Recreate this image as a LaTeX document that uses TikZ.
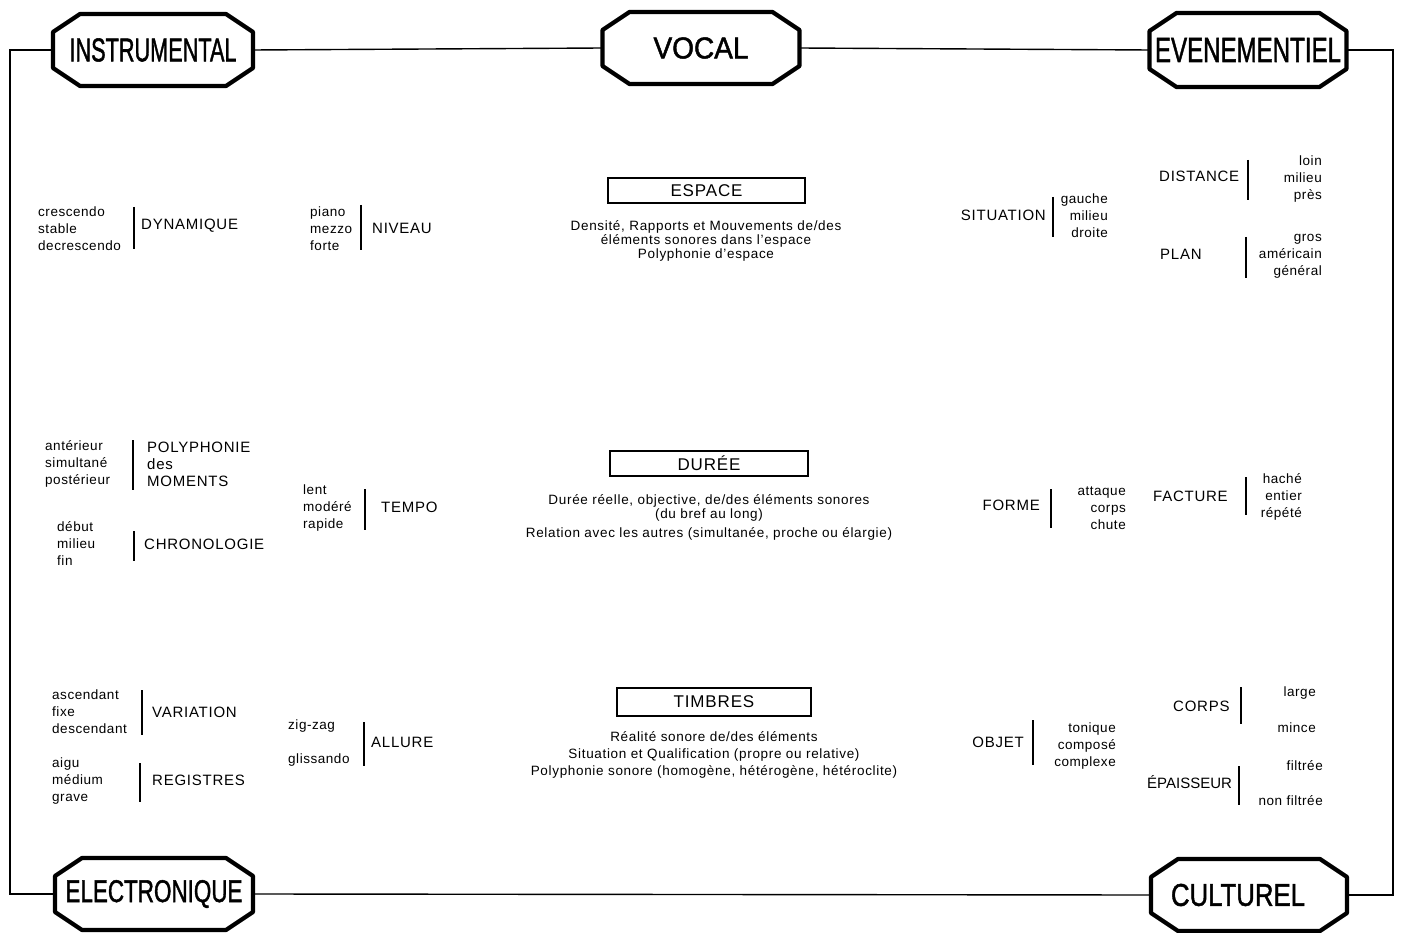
\documentclass[tikz,border=0pt]{standalone}
\usepackage{fontspec}
\setmainfont{Liberation Sans}
\newfontfamily\spaced[LetterSpace=5]{Liberation Sans}
\newfontfamily\lspaced[LetterSpace=4]{Liberation Sans}
\newfontfamily\octfont[FakeBold=1.6]{Liberation Sans}
\usetikzlibrary{calc}

% chamfered frame around a category label
\newcommand{\octlabel}[6]{%
  \node[octnode, minimum width=#4, minimum height=#5] (#1) at (#2,#3) {#6};
  \draw[octline]
    ($(#1.north west)+(27,0)$) -- ($(#1.north east)+(-27,0)$) --
    ($(#1.north east)+(0,18)$) -- ($(#1.south east)+(0,-18)$) --
    ($(#1.south east)+(-27,0)$) -- ($(#1.south west)+(27,0)$) --
    ($(#1.south west)+(0,-18)$) -- ($(#1.north west)+(0,18)$) -- cycle;
}

\tikzset{
  octnode/.style={inner sep=0pt, outer sep=0pt, font=\octfont},
  octline/.style={line width=4.2pt, line join=round},
  frame/.style={line width=1.4pt},
  bar/.style={line width=1.2pt},
  lst/.style={font=\lspaced\fontsize{13.5}{17}\selectfont, inner sep=0pt},
  capl/.style={font=\spaced\fontsize{15}{17}\selectfont, inner sep=0pt},
  desc/.style={font=\spaced\fontsize{13.5}{14}\selectfont, inner sep=0pt, align=center},
  titlebox/.style={draw, line width=1.8pt, inner sep=0pt,
    font=\spaced\fontsize{17}{18}\selectfont},
}

\begin{document}
\begin{tikzpicture}[x=1pt, y=-1pt]
\useasboundingbox (0,0) rectangle (1401,933);

% category labels at the corners and top centre
\octlabel{instr}{153}{50}{200}{72}{\resizebox{167pt}{23pt}{INSTRUMENTAL}}
\octlabel{vocal}{701}{48}{197}{72}{\resizebox{95pt}{21pt}{VOCAL}}
\octlabel{even}{1248}{50}{197}{74}{\resizebox{186pt}{24pt}{EVENEMENTIEL}}
\octlabel{elec}{154}{894}{198}{72}{\resizebox{177pt}{22pt}{ELECTRONIQUE}}
\octlabel{cult}{1249}{895}{196}{72}{\resizebox{134pt}{22pt}{CULTUREL}\rule{22pt}{0pt}}

% surrounding frame
\coordinate (tl) at (10,50);
\coordinate (bl) at (10,894);
\coordinate (tr) at (1393,50);
\coordinate (br) at (1393,895);
\draw[frame] (instr.west) -- (tl) -- (bl) -- (elec.west);
\draw[frame] (instr.east) -- (vocal.west);
\draw[frame] (vocal.east) -- (even.west);
\draw[frame] (even.east) -- (tr) -- (br) -- (cult.east);
\draw[frame] (elec.east) -- (cult.west);

% ---- space ----
\node[lst, anchor=west, align=left] (dynv) at (38,229) {crescendo\\stable\\decrescendo};
\draw[bar] (134,207) -- (134,249);
\node[capl, anchor=west] (dyn) at (141,226) {DYNAMIQUE};
\node[lst, anchor=west, align=left] (nivv) at (310,229) {piano\\mezzo\\forte};
\draw[bar] (361,205) -- (361,250);
\node[capl, anchor=west] (niv) at (372,228) {NIVEAU};

\node[titlebox, minimum width=197pt, minimum height=25pt] (esp) at (706.5,190.5) {ESPACE};
\node[desc] (espd) at (706,241) {Densité, Rapports et Mouvements de/des\\éléments sonores dans l’espace\\Polyphonie d’espace};

\node[capl, anchor=east] (sit) at (1046,215) {SITUATION};
\draw[bar] (1053,197) -- (1053,237);
\node[lst, anchor=east, align=right] (sitv) at (1108,216) {gauche\\milieu\\droite};
\node[capl, anchor=west] (dist) at (1159,176) {DISTANCE};
\draw[bar] (1248,160) -- (1248,200);
\node[lst, anchor=east, align=right] (distv) at (1322,179) {loin\\milieu\\près};
\node[capl, anchor=west] (plan) at (1160,254) {PLAN};
\draw[bar] (1246,237) -- (1246,278);
\node[lst, anchor=east, align=right] (planv) at (1322,256) {gros\\américain\\général};

% ---- duration ----
\node[lst, anchor=west, align=left] (polv) at (45,464) {antérieur\\simultané\\postérieur};
\draw[bar] (133,440) -- (133,490);
\node[capl, anchor=west, align=left] (pol) at (147,464) {POLYPHONIE\\des\\MOMENTS};
\node[lst, anchor=west, align=left] (chrv) at (57,544) {début\\milieu\\fin};
\draw[bar] (134,531) -- (134,561);
\node[capl, anchor=west] (chr) at (144,544) {CHRONOLOGIE};
\node[lst, anchor=west, align=left] (tmpv) at (303,508) {lent\\modéré\\rapide};
\draw[bar] (365,489) -- (365,530);
\node[capl, anchor=west] (tmp) at (381,507) {TEMPO};

\node[titlebox, minimum width=198pt, minimum height=25pt] (dur) at (709,463.5) {DURÉE};
\node[desc] (durd) at (709,517) {Durée réelle, objective, de/des éléments sonores\\(du bref au long)\\[5pt]Relation avec les autres (simultanée, proche ou élargie)};

\node[capl, anchor=east] (form) at (1040,505) {FORME};
\draw[bar] (1051,489) -- (1051,528);
\node[lst, anchor=east, align=right] (formv) at (1126,508) {attaque\\corps\\chute};
\node[capl, anchor=west] (fact) at (1153,496) {FACTURE};
\draw[bar] (1246,477) -- (1246,515);
\node[lst, anchor=east, align=right] (factv) at (1302,497) {haché\\entier\\répété};

% ---- timbre ----
\node[lst, anchor=west, align=left] (varv) at (52,712) {ascendant\\fixe\\descendant};
\draw[bar] (142,690) -- (142,735);
\node[capl, anchor=west] (var) at (152,712) {VARIATION};
\node[lst, anchor=west, align=left] (regv) at (52,781) {aigu\\médium\\grave};
\draw[bar] (140,763) -- (140,802);
\node[capl, anchor=west] (reg) at (152,780) {REGISTRES};
\node[lst, anchor=west] (zig) at (288,726) {zig-zag};
\node[lst, anchor=west] (gli) at (288,760) {glissando};
\draw[bar] (364,722) -- (364,766);
\node[capl, anchor=west] (all) at (371,742) {ALLURE};

\node[titlebox, minimum width=194pt, minimum height=28pt] (timb) at (714,702) {TIMBRES};
\node[desc, font=\spaced\fontsize{13.5}{17}\selectfont] (timbd) at (714,755) {Réalité sonore de/des éléments\\Situation et Qualification (propre ou relative)\\Polyphonie sonore (homogène, hétérogène, hétéroclite)};

\node[capl, anchor=east] (obj) at (1024,742) {OBJET};
\draw[bar] (1033,720) -- (1033,765);
\node[lst, anchor=east, align=right] (objv) at (1116,746) {tonique\\composé\\complexe};
\node[capl, anchor=west] (corps) at (1173,706) {CORPS};
\draw[bar] (1241,687) -- (1241,724);
\node[lst, anchor=east] (large) at (1316,693) {large};
\node[lst, anchor=east] (mince) at (1316,728) {mince};
\node[capl, font=\fontsize{15}{17}\selectfont, anchor=west] (epai) at (1147,782) {ÉPAISSEUR};
\draw[bar] (1239,766) -- (1239,805);
\node[lst, anchor=east] (filt) at (1323,766) {filtrée};
\node[lst, anchor=east] (nfilt) at (1323,801) {non filtrée};
\end{tikzpicture}
\end{document}
